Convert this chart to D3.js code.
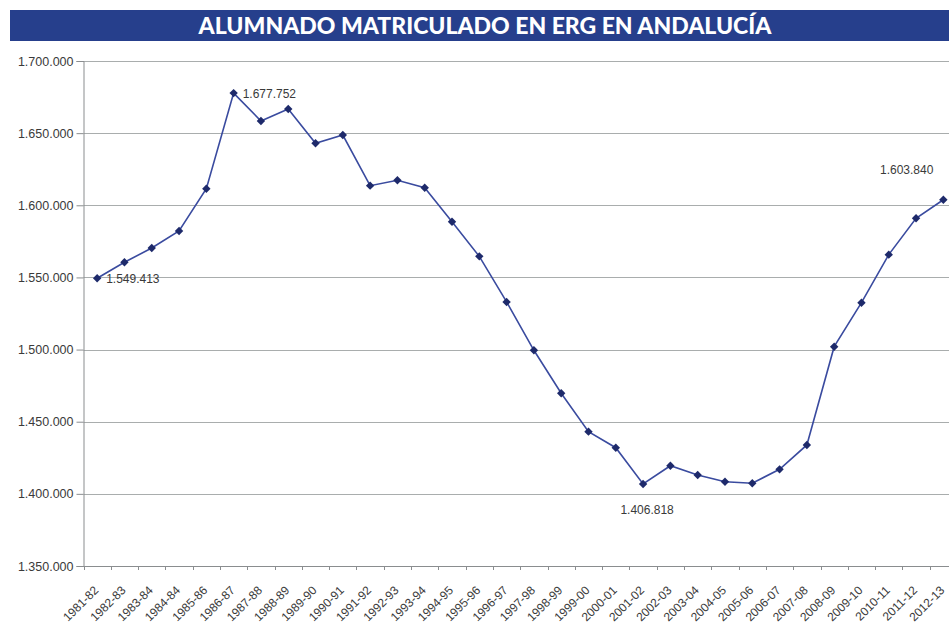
<!DOCTYPE html>
<html>
<head>
<meta charset="utf-8">
<script src="https://cdn.jsdelivr.net/npm/d3@7"></script>
<style>
    body { margin: 0; background: #fff; }
    svg { display: block; }
</style>
</head>
<body>
<svg id="chart" width="949" height="630"></svg>
<script>
'use strict';

var TITLE = "ALUMNADO MATRICULADO EN ERG EN ANDALUCÍA";

var COURSES = [
    "1981-82", "1982-83", "1983-84", "1984-84", "1985-86", "1986-87", "1987-88", "1988-89",
    "1989-90", "1990-91", "1991-92", "1992-93", "1993-94", "1994-95", "1995-96", "1996-97",
    "1997-98", "1998-99", "1999-00", "2000-01", "2001-02", "2002-03", "2003-04", "2004-05",
    "2005-06", "2006-07", "2007-08", "2008-09", "2009-10", "2010-11", "2011-12", "2012-13"
];

var STUDENTS = [
    1549413, 1560500, 1570400, 1582200, 1611500, 1677752, 1658400, 1666700,
    1643000, 1648700, 1613600, 1617300, 1612200, 1588600, 1564600, 1533000,
    1499500, 1469700, 1443100, 1432000, 1406818, 1419500, 1413100, 1408400,
    1407400, 1417000, 1433900, 1502000, 1532500, 1565800, 1591000, 1603840
];

var Y_TICKS = [1350000, 1400000, 1450000, 1500000, 1550000, 1600000, 1650000, 1700000];

// courses that carry a value label, and where the label goes
var LABELED = [
    {course: "1981-82", pos: "right"},
    {course: "1986-87", pos: "right"},
    {course: "2001-02", pos: "below"},
    {course: "2012-13", pos: "aboveLeft"}
];

var svg = d3.select("#chart");
var W = 949;
var FONT = "'Liberation Sans', Arial, sans-serif";

var fmt = d3.formatLocale({decimal: ",", thousands: ".", grouping: [3], currency: ["", "€"]}).format(",d");

// title bar
svg.append("rect")
    .attr("x", 10).attr("y", 10)
    .attr("width", W - 10).attr("height", 31)
    .attr("fill", "#263f8c");

svg.append("text")
    .attr("x", 485).attr("y", 34)
    .attr("text-anchor", "middle")
    .attr("fill", "#fff")
    .style("font-family", "Lato, 'Open Sans', sans-serif")
    .style("font-weight", "900")
    .style("font-size", "23px")
    .text(TITLE);

var plot = {left: 83.5, top: 61, bottom: 566, right: 957};

var x = d3.scaleBand().domain(COURSES).range([plot.left, plot.right]);
var y = d3.scaleLinear().domain([1350000, 1700000]).range([plot.bottom, plot.top]);

// gridlines
svg.append("g")
    .selectAll("line")
    .data(Y_TICKS.slice(1))
    .enter()
    .append("line")
    .attr("x1", plot.left).attr("x2", W)
    .attr("y1", function (d) { return Math.round(y(d)) + 0.5; })
    .attr("y2", function (d) { return Math.round(y(d)) + 0.5; })
    .attr("stroke", "#a9adad")
    .attr("stroke-width", 1);

// y axis
var yAxis = svg.append("g")
    .attr("transform", "translate(" + plot.left + ",0)")
    .call(d3.axisLeft(y).tickValues(Y_TICKS).tickFormat(fmt).tickSize(7).tickPadding(3));

yAxis.select(".domain").attr("stroke", "#8a8d8f");
yAxis.selectAll(".tick line").attr("stroke", "#8a8d8f");
yAxis.selectAll(".tick text")
    .attr("fill", "#3a3a3a")
    .style("font-family", FONT)
    .style("font-size", "12.5px");

// x axis
var xAxis = svg.append("g")
    .attr("transform", "translate(0," + plot.bottom + ")")
    .call(d3.axisBottom(x).tickSize(0).tickFormat(""));

xAxis.select(".domain").attr("stroke", "#8a8d8f");

// ticks on band edges
svg.append("g")
    .selectAll("line")
    .data(COURSES)
    .enter()
    .append("line")
    .attr("x1", function (d) { return Math.round(x(d)) + 0.5; })
    .attr("x2", function (d) { return Math.round(x(d)) + 0.5; })
    .attr("y1", plot.bottom)
    .attr("y2", plot.bottom + 4)
    .attr("stroke", "#8a8d8f");

svg.append("g")
    .selectAll("text")
    .data(COURSES)
    .enter()
    .append("text")
    .attr("transform", function (d) {
        var cx = x(d) + x.bandwidth() / 2;
        return "translate(" + (cx - 1) + "," + (plot.bottom + 22) + ") rotate(-45)";
    })
    .attr("text-anchor", "end")
    .attr("dy", "0.35em")
    .attr("fill", "#3a3a3a")
    .style("font-family", FONT)
    .style("font-size", "12px")
    .text(function (d) { return d; });

// series
var points = COURSES.map(function (c, i) {
    return {course: c, value: STUDENTS[i], px: x(c) + x.bandwidth() / 2, py: y(STUDENTS[i])};
});

var line = d3.line()
    .x(function (d) { return d.px; })
    .y(function (d) { return d.py; });

svg.append("path")
    .datum(points)
    .attr("d", line)
    .attr("fill", "none")
    .attr("stroke", "#3a4b9f")
    .attr("stroke-width", 1.6);

svg.append("g")
    .selectAll("path")
    .data(points)
    .enter()
    .append("path")
    .attr("d", d3.symbol().type(d3.symbolDiamond2).size(45))
    .attr("transform", function (d) { return "translate(" + d.px + "," + d.py + ")"; })
    .attr("fill", "#1e2a6b");

// value labels
LABELED.forEach(function (l) {
    var p = points.find(function (d) { return d.course == l.course; });
    var t = svg.append("text")
        .attr("fill", "#3a3a3a")
        .style("font-family", FONT)
        .style("font-size", "12px")
        .text(fmt(p.value));
    if (l.pos == "right") {
        t.attr("x", p.px + 9).attr("y", p.py + 4.5);
    } else if (l.pos == "below") {
        t.attr("x", p.px + 4).attr("y", p.py + 30).attr("text-anchor", "middle");
    } else {
        t.attr("x", p.px - 10).attr("y", p.py - 26).attr("text-anchor", "end");
    }
});
</script>
</body>
</html>
